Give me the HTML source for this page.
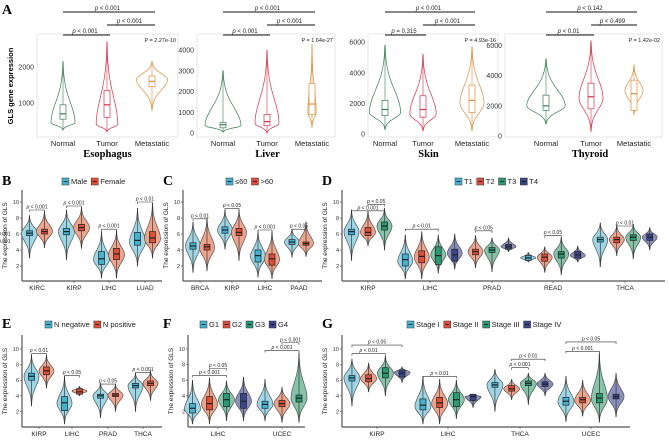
<!DOCTYPE html>
<html><head><meta charset="utf-8"><style>
html,body{margin:0;padding:0;background:#fff;}
svg{display:block;font-family:"Liberation Sans",sans-serif;}
</style></head><body>
<svg id="fig" width="669" height="445" viewBox="0 0 669 445" xmlns="http://www.w3.org/2000/svg"></svg>
<script>
// ---------- DATA ----------
// stats: [min, q1, median, q3, max, mode]
const aGroups = ['Normal','Tumor','Metastatic'];
const esoStats = [[250,550,700,950,2150,450],[200,600,950,1350,2700,400],[800,1450,1600,1750,2150,1650]];
const esoDensity = [1.0,0.9,1.3];
const liverStats = [[50,250,400,500,3000,350],[0,350,550,900,4000,450],[250,900,1400,2400,4300,1000]];
const liverDensity = [1.5,1.0,0.35];
const skinStats = [[300,1200,1600,2200,5800,1400],[200,1100,1600,2500,5200,1300],[200,1400,2200,3200,5700,2000]];
const skinDensity = [1.3,1.1,1.0];
const thyStats = [[800,1700,2000,2700,5100,2000],[300,1800,2600,3500,6300,2500],[1400,1700,2800,3700,4700,3000]];
const thyDensity = [1.6,1.0,0.75];
const aTitles = ['Esophagus','Liver','Skin','Thyroid'];
const aPtext = ['P = 2.27e-10','P = 1.64e-27','P = 4.93e-16','P = 1.42e-02'];
// order: top bracket, middle bracket, lower bracket
const aPairs = [['p < 0.001','p < 0.001','p < 0.001'],['p < 0.001','p < 0.001','p < 0.001'],['p < 0.001','p < 0.001','p = 0.315'],['p < 0.142','p < 0.499','p < 0.01']];
const aTicks = [[1000,2000],[0,1000,2000,3000,4000],[0,2000,4000,6000],[0,2000,4000,6000]];

const bCats = ['KIRC','KIRP','LIHC','LUAD'];
const bLegend = ['Male','Female'];
const bStats = [
 [[3,5.8,6.1,6.4,8.3,6.1],[4.3,6.0,6.3,6.6,8.8,6.3]],
 [[2.8,5.9,6.3,6.7,9,6.3],[4.2,6.4,6.8,7.2,9.3,6.8]],
 [[0.5,2.2,2.9,3.8,6.3,2.8],[0.5,2.8,3.5,4.2,6.4,3.4]],
 [[2,4.6,5.2,6.2,9.2,5.0],[3,4.9,5.5,6.3,9.8,5.4]]];
const bBrackets = [[0,0,1,9.0,'p < 0.001'],[1,0,1,9.5,'p < 0.001'],[2,0,1,6.6,'p < 0.001'],[3,0,1,10.0,'p < 0.01']];

const cCats = ['BRCA','KIRP','LIHC','PAAD'];
const cLegend = ['≤60','>60'];
const cStats = [
 [[1.2,4.1,4.5,4.9,7.5,4.5],[1.4,4.0,4.4,4.7,8,4.3]],
 [[4.1,6.1,6.5,6.9,9,6.5],[2.7,5.8,6.2,6.7,9,6.2]],
 [[0.6,2.5,3.3,4.0,6.3,3.2],[0.4,2.1,2.9,3.5,6.3,2.8]],
 [[3.1,4.7,5.0,5.3,6.6,5.0],[3.2,4.6,4.8,5.0,7.5,4.8]]];
const cBrackets = [[0,0,1,7.9,'p < 0.01'],[1,0,1,9.2,'p < 0.05'],[2,0,1,6.5,'p < 0.001'],[3,0,1,6.6,'p < 0.05']];

const dCats = ['KIRP','LIHC','PRAD','READ','THCA'];
const dLegend = ['T1','T2','T3','T4'];
const dStats = [
 [[2.7,5.9,6.3,6.6,9,6.3],[4.5,5.8,6.2,6.8,8.9,6.2],[4,6.5,7,7.5,9.2,7.0],null],
 [[0.4,2,2.8,3.5,5.9,2.6],[0.4,2.4,3.2,3.9,6.3,3.1],[1.1,2.2,3.3,4.4,5.9,3.4],[1.6,2.6,3.4,4.1,6.0,3.6]],
 [null,[1.8,3.4,3.8,4.1,5.8,3.8],[1.3,3.7,4.0,4.3,5.5,4.0],[3.8,4.1,4.4,4.7,5.5,4.4]],
 [[2.5,2.7,3.0,3.3,3.7,3.0],[1.2,2.6,3.1,3.5,4.4,3.1],[0.9,3.0,3.5,3.8,5.6,3.5],[2.5,3.0,3.4,3.8,4.5,3.3]],
 [[1.9,5.0,5.3,5.6,7.4,5.3],[3.3,4.9,5.3,5.6,7.1,5.3],[2.9,5.2,5.6,5.9,7.2,5.6],[4.0,5.2,5.6,6.0,6.8,5.6]]];
const dBrackets = [[0,0,2,8.9,'p < 0.001'],[0,1,2,9.7,'p < 0.05'],[1,0,2,6.6,'p < 0.01'],[2,0,1,4.7,'p < 0.001'],[2,0,2,5.6,'p < 0.001'],[2,1,2,6.4,'p < 0.05'],[3,1,2,5.8,'p < 0.05'],[4,1,2,7.0,'p < 0.01']];

const eCats = ['KIRP','LIHC','PRAD','THCA'];
const eLegend = ['N negative','N positive'];
const eStats = [
 [[2.7,6.0,6.5,6.9,9.2,6.5],[5.0,6.7,7.2,7.7,9.2,7.2]],
 [[0.4,2.1,3.1,3.9,6.5,3.0],[4.0,4.2,4.5,4.9,5.2,4.6]],
 [[1.2,3.7,4.0,4.2,5.6,4.0],[2.0,3.9,4.1,4.3,5.5,4.1]],
 [[2,5.0,5.3,5.6,6.9,5.3],[3.4,5.3,5.6,5.9,7.2,5.6]]];
const eBrackets = [[0,0,1,9.4,'p < 0.01'],[1,0,1,6.6,'p < 0.05'],[2,0,1,5.5,'p < 0.05'],[3,0,1,7.0,'p < 0.001']];

const fCats = ['LIHC','UCEC'];
const fLegend = ['G1','G2','G3','G4'];
const fStats = [
 [[0.4,1.8,2.4,3.0,6,2.3],[0.4,2.2,3.0,3.9,6.3,2.9],[0.8,2.6,3.5,4.3,5.9,3.5],[0.8,2.4,3.3,4.3,6.4,3.3]],
 [[0.8,2.4,2.9,3.3,6.1,2.9],[0.6,2.6,3.0,3.4,5.1,3.0],[0.6,3.2,3.7,4.1,9.5,3.7],null]];
const fBrackets = [[0,0,2,6.6,'p < 0.001'],[0,1,2,7.5,'p < 0.05'],[1,0,2,9.8,'p < 0.001'],[1,1,2,10.8,'p < 0.001']];

const gCats = ['KIRP','LIHC','THCA','UCEC'];
const gLegend = ['Stage I','Stage II','Stage III','Stage IV'];
const gStats = [
 [[2.7,5.9,6.3,6.6,8.7,6.3],[4.5,5.8,6.2,6.7,8.2,6.2],[4.0,6.3,6.9,7.6,9.1,6.9],[5.7,6.4,6.9,7.3,7.7,7.0]],
 [[0.4,2.2,2.8,3.6,6.5,2.6],[0.4,2.5,3.1,3.8,6.1,3.0],[1.1,2.6,3.5,4.4,6.0,3.5],[2.5,3.4,3.9,4.2,4.2,3.9]],
 [[2,5.1,5.4,5.7,7.4,5.4],[3.5,4.6,4.9,5.3,6.1,4.9],[2.9,5.3,5.6,5.9,6.9,5.6],[4.0,5.2,5.5,5.8,6.9,5.5]],
 [[0.7,2.8,3.3,3.8,6.5,3.2],[1.4,3.1,3.5,3.8,6.0,3.4],[0.6,3.1,3.7,4.3,9.5,3.6],[1.3,3.6,3.9,4.2,6.9,3.9]]];
const gBrackets = [[0,0,2,9.4,'p < 0.01'],[0,0,3,10.5,'p < 0.05'],[1,0,2,6.5,'p < 0.01'],[2,1,2,7.6,'p < 0.001'],[2,1,3,8.7,'p < 0.01'],[3,0,2,9.7,'p < 0.001'],[3,0,3,10.9,'p < 0.05']];

// ---------- DRAWING ----------
const NS='http://www.w3.org/2000/svg';
const svg=document.getElementById('fig');
function mk(tag,attrs,parent,text){
  const e=document.createElementNS(NS,tag);
  for(const k in attrs)e.setAttribute(k,attrs[k]);
  if(text!==undefined)e.textContent=text;
  (parent||svg).appendChild(e);return e;
}
const fills=['#9fd6e6','#eea58e','#86c3a9','#8a90bb'];
const boxes=['#45b2d0','#dc4f3a','#2a9a73','#3b4689'];
const aCols=['#3a7d52','#d9304a','#d98e3a'];

function violinPath(cx,ys,st,hw){
  const [mn,,,,mx,mode]=st;const n=48;const L=[],R=[];
  for(let i=0;i<=n;i++){
    const t=mn+(mx-mn)*i/n;let u;
    if(t<mode)u=(mode-t)/Math.max(mode-mn,1e-6);else u=(t-mode)/Math.max(mx-mode,1e-6);
    let w=hw*(Math.exp(-4.5*u*u)*0.95+0.05*(1-u));
    const y=ys(t);L.push([cx-w,y]);R.push([cx+w,y]);
  }
  const pts=L.concat(R.reverse());
  return 'M'+pts.map(p=>p[0].toFixed(1)+','+p[1].toFixed(1)).join('L')+'Z';
}
function drawViolin(g,cx,ys,st,hw,vf,vs,bf,bs,bw,name){
  const grp=mk('g',{},g);
  
  
  mk('path',{d:violinPath(cx,ys,st,hw),fill:vf,stroke:vs,'stroke-width':0.7},grp);
  mk('line',{x1:cx,x2:cx,y1:ys(st[0]),y2:ys(st[4]),stroke:bs,'stroke-width':0.6},grp);
  mk('rect',{x:cx-bw/2,y:ys(st[3]),width:bw,height:Math.max(ys(st[1])-ys(st[3]),1),fill:bf,stroke:bs,'stroke-width':0.7},grp);
  mk('line',{x1:cx-bw/2,x2:cx+bw/2,y1:ys(st[2]),y2:ys(st[2]),stroke:bs,'stroke-width':1.2},grp);
}
function pText(parent,x,y,txt,size){
  const t=mk('text',{x:x,y:y,'font-size':size,'text-anchor':'middle',fill:'#222'},parent);
  
  
  const rest=txt.slice(1);
  mk('tspan',{'font-style':'italic'},t,'p');
  mk('tspan',{'font-style':'normal'},t,rest);
}

// Panel A
const aPanels=[
 {stats:esoStats,dens:esoDensity,x0:37,x1:178,y0:139,k:0.036,xs:[63,107,152],hw:12},
 {stats:liverStats,dens:liverDensity,x0:197,x1:335,y0:133,k:0.0207,xs:[223,267,312],hw:12},
 {stats:skinStats,dens:skinDensity,x0:368,x1:498,y0:134,k:0.0153,xs:[385,423,472],hw:12},
 {stats:thyStats,dens:thyDensity,x0:505,x1:662,y0:136,k:0.0151,xs:[546,591,634],hw:12}];
const la=mk('text',{x:2,y:14,'font-size':14,'font-weight':'bold','font-family':'Liberation Serif,serif'},svg,'A');

const yt=mk('text',{x:13,y:86,'font-size':7.5,'text-anchor':'middle',transform:'rotate(-90 13 86)','font-weight':'bold'},svg,'GLS gene expression');

aPanels.forEach((P,pi)=>{
  const g=mk('g',{});
  
  
  const ys=v=>P.y0-v*P.k;
  mk('rect',{x:P.x0,y:34,width:P.x1-P.x0,height:103,fill:'none',stroke:'#e2e2e2','stroke-width':0.8},g);
  aTicks[pi].forEach(t=>{
    const tl=mk('text',{x:P.x0-3,y:ys(t)+2.5,'font-size':7,'text-anchor':'end',fill:'#333'},g,String(t));
    
  });
  P.stats.forEach((st,i)=>{
    drawViolin(g,P.xs[i],ys,st,P.hw*P.dens[i],'none',aCols[i],'#fff',aCols[i],6,'violin-'+aGroups[i].toLowerCase());
    const xl=mk('text',{x:P.xs[i],y:146,'font-size':7.5,'text-anchor':'middle',fill:'#222'},g,aGroups[i]);
    
  });
  const tt=mk('text',{x:(P.xs[0]+P.xs[2])/2,y:157,'font-size':10.5,'font-weight':'bold','text-anchor':'middle','font-family':'Liberation Serif,serif'},g,aTitles[pi]);
  
  const pt=mk('text',{x:P.x1-2,y:42,'font-size':5.5,'text-anchor':'end',fill:'#222'},g,aPtext[pi]);
  
  const br=[[0,2,12],[1,2,25],[0,1,35]];
  br.forEach((b,j)=>{
    const l=mk('line',{x1:P.xs[b[0]],x2:P.xs[b[1]]+3,y1:b[2],y2:b[2],stroke:'#111','stroke-width':1.1},g);
    
    pText(g,(P.xs[b[0]]+P.xs[b[1]])/2,b[2]-2,aPairs[pi][j],6);
  });
});

// Grouped panels
function grouped(cfg){
  const g=mk('g',{});
  
  
  const ys=v=>cfg.y0-v*cfg.k;
  const lb=mk('text',{x:cfg.lx,y:cfg.ly,'font-size':14,'font-weight':'bold','font-family':'Liberation Serif,serif'},g,cfg.letter);
  
  mk('line',{x1:cfg.ax,x2:cfg.ax,y1:cfg.ytop,y2:cfg.axY,stroke:'#555','stroke-width':1.2},g);
  mk('line',{x1:cfg.ax,x2:cfg.axEnd,y1:cfg.axY,y2:cfg.axY,stroke:'#555','stroke-width':1.2},g);
  [2,4,6,8,10].forEach(t=>{
    mk('line',{x1:cfg.ax-2,x2:cfg.ax,y1:ys(t),y2:ys(t),stroke:'#444','stroke-width':0.6},g);
    const tl=mk('text',{x:cfg.ax-3,y:ys(t)+2,'font-size':5.5,'text-anchor':'end',fill:'#333'},g,String(t));
    
  });
  const ty=(cfg.ytop+cfg.axY)/2;
  const yl=mk('text',{x:cfg.ax-15,y:ty,'font-size':6.5,'text-anchor':'middle',fill:'#222',transform:'rotate(-90 '+(cfg.ax-15)+' '+ty+')'},g,'The expression of GLS');
  
  const pos=[];
  cfg.stats.forEach((grp,ci)=>{
    const idx=[];grp.forEach((s,j)=>{if(s)idx.push(j);});
    const m=idx.length;pos[ci]={};
    idx.forEach((j,n)=>{pos[ci][j]=cfg.cx[ci]+(n-(m-1)/2)*cfg.sp;});
    idx.forEach(j=>{
      drawViolin(g,pos[ci][j],ys,grp[j],cfg.hw,fills[j],'#555',boxes[j],'#222',cfg.bw,'violin-'+cfg.cats[ci].toLowerCase()+'-'+cfg.legend[j].toLowerCase().replace(/[^a-z0-9]+/g,'-'));
    });
    mk('line',{x1:cfg.cx[ci],x2:cfg.cx[ci],y1:cfg.axY,y2:cfg.axY+2,stroke:'#444','stroke-width':0.6},g);
    const xl=mk('text',{x:cfg.cx[ci],y:cfg.axY+9,'font-size':6.5,'text-anchor':'middle',fill:'#222','font-style':'normal'},g,cfg.cats[ci]);
    
  });
  cfg.brackets.forEach(b=>{
    const x1=pos[b[0]][b[1]],x2=pos[b[0]][b[2]],y=ys(b[3]);
    const l=mk('path',{d:`M${x1},${y+2}V${y}H${x2}V${y+2}`,fill:'none',stroke:'#333','stroke-width':0.6},g);
    
    pText(g,(x1+x2)/2,y-1.5,b[4],5);
  });
  let lx=cfg.legX;
  cfg.legend.forEach((name,j)=>{
    const it=mk('g',{},g);
    
    
    mk('rect',{x:lx,y:cfg.legY-6,width:7,height:7,fill:boxes[j],stroke:'#333','stroke-width':0.5},it);
    mk('line',{x1:lx+1.5,x2:lx+5.5,y1:cfg.legY-2.5,y2:cfg.legY-2.5,stroke:'#111','stroke-width':0.8},it);
    const t=mk('text',{x:lx+9,y:cfg.legY,'font-size':7.5,fill:'#222'},it,name);
    lx+=9+t.getComputedTextLength()+4;
  });
}
grouped({letter:'B',lx:2,ly:185,ax:22,axEnd:162,axY:281,ytop:190,y0:282,k:8,cats:bCats,cx:[37,74,109,145],sp:15,hw:8,bw:6,stats:bStats,brackets:bBrackets,legend:bLegend,legX:62,legY:184});
grouped({letter:'C',lx:163,ly:185,ax:183,axEnd:322,axY:281,ytop:190,y0:282,k:8,cats:cCats,cx:[200,232,265,299],sp:14,hw:7.5,bw:6,stats:cStats,brackets:cBrackets,legend:cLegend,legX:226,legY:184});
grouped({letter:'D',lx:322,ly:185,ax:342,axEnd:665,axY:281,ytop:190,y0:282,k:8,cats:dCats,cx:[368,430,492,553,625],sp:16.5,hw:7.5,bw:6,stats:dStats,brackets:dBrackets,legend:dLegend,legX:455,legY:184});
grouped({letter:'E',lx:2,ly:328,ax:22,axEnd:162,axY:427,ytop:335,y0:427,k:7.8,cats:eCats,cx:[39,72,108,143],sp:15,hw:7.5,bw:6,stats:eStats,brackets:eBrackets,legend:eLegend,legX:45,legY:327});
grouped({letter:'F',lx:163,ly:328,ax:188,axEnd:305,axY:427,ytop:335,y0:427,k:7.8,cats:fCats,cx:[218,282],sp:17,hw:8,bw:6,stats:fStats,brackets:fBrackets,legend:fLegend,legX:200,legY:327});
grouped({letter:'G',lx:322,ly:328,ax:342,axEnd:630,axY:427,ytop:335,y0:427,k:7.8,cats:gCats,cx:[377,448,520,591],sp:16.7,hw:8,bw:6,stats:gStats,brackets:gBrackets,legend:gLegend,legX:407,legY:327});
</script>
</body></html>
